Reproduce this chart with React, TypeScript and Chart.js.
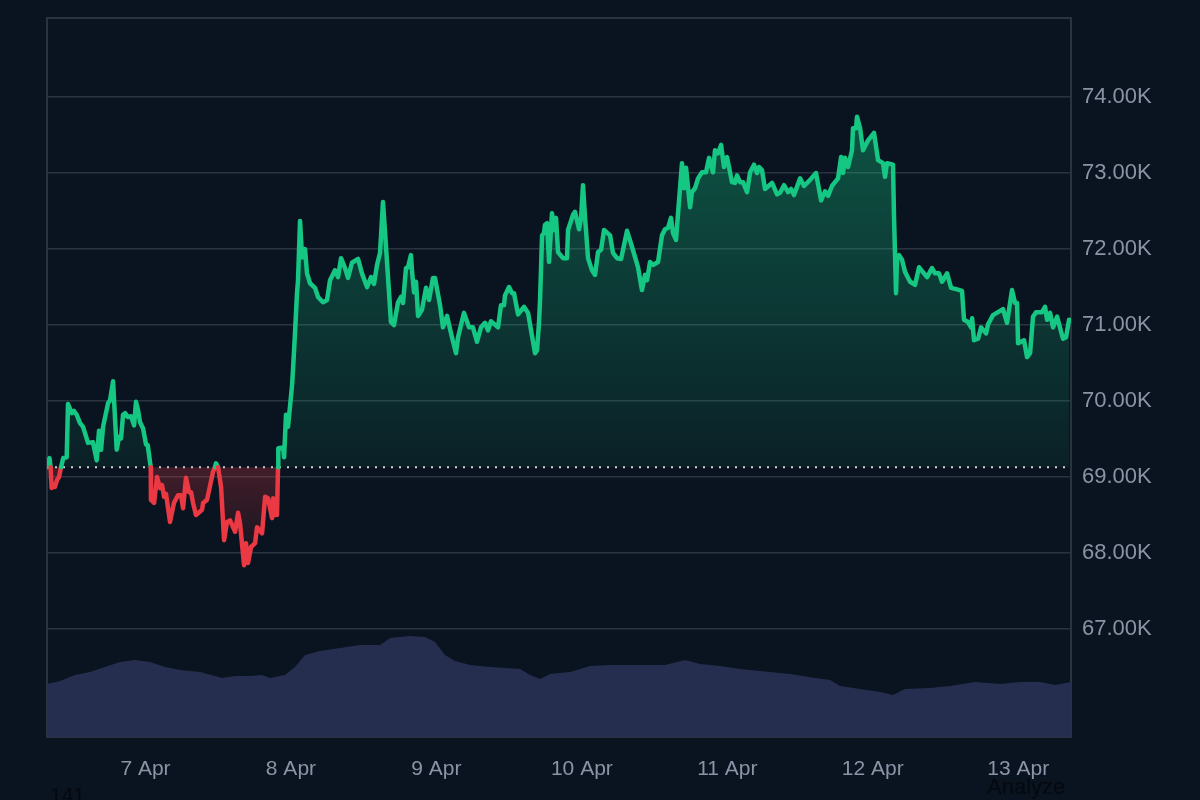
import { useEffect, useRef } from "react";
import Chart from "chart.js/auto";

// minutes since 7 Apr 00:00
const priceMinutes = [
  -975, -950, -940, -929, -916, -896, -876, -856, -836, -814, -780, -767, -730, -708, -681, -648, -618, -569, -520, -483,
  -460, -440, -420, -371, -351, -321, -285, -262, -242, -222, -202, -173, -143, -113, -94, -74, -54, -24, 5, 22,
  52, 54, 85, 114, 144, 164, 184, 203, 243, 282, 322, 352, 372, 401, 431, 451, 471, 500, 560, 570,
  609, 669, 688, 698, 718, 748, 778, 807, 837, 887, 916, 936, 976, 995, 1015, 1045, 1085, 1104, 1154, 1184,
  1213, 1253, 1263, 1283, 1302, 1312, 1315, 1362, 1372, 1391, 1411, 1451, 1461, 1480, 1500, 1510, 1530, 1550, 1579, 1599,
  1629, 1678, 1708, 1757, 1797, 1827, 1876, 1906, 1936, 1975, 2005, 2044, 2104, 2143, 2193, 2233, 2262, 2292, 2322, 2351,
  2381, 2430, 2460, 2500, 2530, 2549, 2579, 2599, 2628, 2638, 2658, 2678, 2698, 2737, 2777, 2807, 2846, 2866, 2916, 2945,
  2985, 3034, 3074, 3094, 3153, 3203, 3242, 3282, 3321, 3361, 3391, 3420, 3490, 3519, 3549, 3559, 3599, 3628, 3648, 3688,
  3747, 3787, 3856, 3876, 3896, 3906, 3926, 3945, 3955, 3975, 3995, 4024, 4044, 4064, 4084, 4133, 4173, 4183, 4232, 4252,
  4292, 4312, 4331, 4351, 4381, 4420, 4450, 4480, 4510, 4539, 4599, 4628, 4668, 4708, 4737, 4767, 4816, 4876, 4915, 4945,
  4965, 4995, 5024, 5074, 5113, 5143, 5173, 5202, 5222, 5252, 5272, 5311, 5331, 5351, 5391, 5410, 5440, 5470, 5509, 5549,
  5579, 5618, 5638, 5668, 5698, 5727, 5757, 5806, 5836, 5856, 5886, 5915, 5955, 5985, 6024, 6054, 6074, 6103, 6133, 6203,
  6252, 6282, 6321, 6361, 6391, 6420, 6480, 6519, 6579, 6638, 6688, 6727, 6757, 6796, 6856, 6886, 6905, 6925, 6955, 6994,
  7004, 7034, 7044, 7074, 7103, 7153, 7212, 7252, 7301, 7321, 7341, 7400, 7410, 7430, 7440, 7460, 7489, 7519, 7569, 7618,
  7658, 7737, 7786, 7816, 7856, 7885, 7935, 7975, 8034, 8083, 8103, 8143, 8173, 8183, 8202, 8242, 8272, 8321, 8341, 8390,
  8489, 8529, 8578, 8608, 8628, 8638, 8697, 8727, 8757, 8786, 8816, 8875, 8905, 8925, 8955, 8984, 9024, 9083, 9113, 9143,
];

const prices = [
  69130, 69250, 69130, 68855, 68910, 68870, 68960, 69000, 69130, 69250, 69260, 69960, 69840, 69870, 69820, 69710, 69660, 69450, 69460, 69220,
  69610, 69360, 69660, 69970, 70010, 70260, 69360, 69530, 69510, 69820, 69840, 69790, 69800, 69680, 69990, 69880, 69720, 69640, 69430, 69420,
  69130, 68700, 68660, 69000, 68855, 68895, 68740, 68780, 68410, 68660, 68760, 68760, 68590, 68990, 68800, 68800, 68660, 68500, 68570, 68660,
  68700, 69070, 69130, 69180, 69130, 68870, 68170, 68410, 68430, 68280, 68530, 68390, 67840, 68130, 67870, 68080, 68130, 68340, 68260, 68740,
  68720, 68460, 68720, 68500, 68500, 69130, 69380, 69390, 69260, 69820, 69660, 70210, 70430, 70890, 71420, 71590, 72370, 71890, 72000, 71680,
  71550, 71490, 71370, 71300, 71330, 71590, 71720, 71630, 71880, 71750, 71620, 71820, 71870, 71680, 71500, 71630, 71540, 71790, 71950, 72620,
  72030, 71040, 71000, 71300, 71370, 71290, 71750, 71760, 71920, 71720, 71430, 71570, 71120, 71200, 71490, 71330, 71620, 71620, 71260, 70970,
  71120, 70840, 70630, 70840, 71160, 70970, 70970, 70780, 70970, 71030, 70930, 71050, 70970, 71260, 71260, 71390, 71500, 71420, 71420, 71140,
  71240, 71160, 70630, 70670, 71040, 71330, 72180, 72210, 72320, 72340, 71830, 72470, 72250, 72410, 71960, 71880, 71880, 72250, 72450, 72490,
  72260, 72410, 72840, 72420, 71880, 71720, 71660, 71960, 71990, 72250, 72180, 71950, 71880, 71870, 72050, 72240, 72030, 71760, 71460, 71660,
  71590, 71830, 71790, 71830, 72180, 72260, 72280, 72410, 72210, 72120, 72470, 73130, 72800, 73070, 72550, 72750, 72800, 72930, 73010, 73010,
  73200, 73010, 73300, 73260, 73370, 73080, 73210, 72880, 72870, 72970, 72880, 72880, 72750, 73010, 73110, 73000, 73080, 73040, 72790, 72870,
  72720, 72740, 72840, 72750, 72790, 72710, 72930, 72830, 72910, 73000, 72640, 72760, 72700, 72830, 72930, 73210, 73000, 73200, 73080, 73300,
  73590, 73590, 73740, 73590, 73300, 73430, 73530, 73170, 73130, 72950, 73130, 73110, 72420, 71420, 71890, 71920, 71860, 71700, 71570, 71530,
  71760, 71630, 71750, 71680, 71680, 71570, 71680, 71490, 71470, 71450, 71070, 71040, 70970, 71090, 70800, 70820, 70970, 70890, 71010, 71130,
  71210, 71030, 71460, 71290, 71290, 70760, 70800, 70580, 70630, 71110, 71170, 71170, 71240, 71070, 71160, 70970, 71110, 70820, 70840, 71070,
];

const volumeMinutes = [
  -975, -846, -698, -549, -401, -252, -104, 45, 193, 342, 540, 688, 757, 886, 1035, 1154, 1233, 1381, 1480, 1579,
  1728, 1926, 2124, 2322, 2421, 2619, 2767, 2866, 2965, 3064, 3213, 3411, 3708, 3807, 3906, 4005, 4203, 4401, 4599, 4896,
  5143, 5342, 5490, 5688, 5886, 6084, 6381, 6628, 6777, 6876, 7074, 7272, 7400, 7519, 7767, 7965, 8212, 8460, 8658, 8856,
  9005, 9162,
];

const volumes = [
  26.5, 28, 31, 32.5, 35, 37.5, 38.5, 37.5, 35, 33.5, 32.5, 30.5, 29.5, 30.5, 30.5, 31, 29.5, 31, 35, 41,
  43, 44.5, 46, 46, 49.5, 50.5, 50, 47.5, 41, 38, 36, 35, 34, 31, 29, 31.5, 32.5, 35.5, 36, 36,
  36, 38.5, 36.5, 35.5, 34, 33, 31.5, 29.5, 28.5, 25.5, 24, 22.5, 21, 24, 24.5, 25.5, 27.5, 26.5, 27.5, 27.5,
  26, 27.5,
];

const dayTicks = [0, 1440, 2880, 4320, 5760, 7200, 8640];
const dayLabels = ["7 Apr", "8 Apr", "9 Apr", "10 Apr", "11 Apr", "12 Apr", "13 Apr"];
const priceTicks = [67000, 68000, 69000, 70000, 71000, 72000, 73000, 74000];
const BASELINE = 69130;

const GREEN = "#16c784";
const RED = "#ea3943";
const BG = "#0a1420";
const GRID = "#2a3441";
const LABEL = "#8a94a6";
const FONT = "'Liberation Sans', Arial, sans-serif";

export default function App() {
  const canvasRef = useRef<HTMLCanvasElement>(null);

  useEffect(() => {
    document.body.style.margin = "0";
    document.body.style.background = BG;
    if (!canvasRef.current) return;
    const ctx = canvasRef.current.getContext("2d");
    if (!ctx) return;

    const above = ctx.createLinearGradient(0, 115, 0, 467);
    above.addColorStop(0, "rgba(22,199,132,0.36)");
    above.addColorStop(1, "rgba(22,199,132,0.07)");
    const below = ctx.createLinearGradient(0, 467, 0, 570);
    below.addColorStop(0, "rgba(234,57,67,0.26)");
    below.addColorStop(1, "rgba(234,57,67,0.02)");

    const plotBorder = {
      id: "plotBorder",
      beforeDatasetsDraw(chart: Chart) {
        const { left, top, width, height } = chart.chartArea;
        chart.ctx.save();
        chart.ctx.strokeStyle = GRID;
        chart.ctx.lineWidth = 2;
        chart.ctx.strokeRect(left, top, width, height);
        chart.ctx.restore();
      },
    };

    const chart = new Chart(canvasRef.current, {
      type: "line",
      data: {
        datasets: [
          {
            label: "Price",
            data: priceMinutes.map((x, i) => ({ x, y: prices[i] })),
            yAxisID: "y",
            borderColor: GREEN,
            borderWidth: 4.5,
            borderJoinStyle: "round",
            borderCapStyle: "round",
            pointRadius: 0,
            tension: 0,
            fill: { target: { value: BASELINE }, above, below },
            segment: {
              borderColor: (c: any) =>
                Math.min(c.p0.parsed.y, c.p1.parsed.y) < BASELINE ? RED : GREEN,
            },
          },
          {
            label: "Baseline",
            data: [
              { x: -975, y: BASELINE },
              { x: 9162, y: BASELINE },
            ],
            yAxisID: "y",
            borderColor: "#d5d8dc",
            borderWidth: 2,
            borderDash: [2, 6],
            pointRadius: 0,
          },
          {
            label: "Volume",
            data: volumeMinutes.map((x, i) => ({ x, y: volumes[i] })),
            yAxisID: "y1",
            borderWidth: 0,
            pointRadius: 0,
            backgroundColor: "#262e50",
            fill: "origin",
          },
        ],
      },
      options: {
        responsive: false,
        animation: false,
        layout: { autoPadding: false, padding: { left: 47, top: 18, right: 0, bottom: 0 } },
        plugins: { legend: { display: false }, tooltip: { enabled: false } },
        scales: {
          x: {
            type: "linear",
            min: -975,
            max: 9162,
            afterBuildTicks: (axis: any) => {
              axis.ticks = dayTicks.map((value) => ({ value }));
            },
            afterFit: (axis: any) => {
              axis.height = 63;
              axis.paddingLeft = 0;
              axis.paddingRight = 0;
            },
            grid: { display: false },
            border: { display: false },
            ticks: {
              color: LABEL,
              font: { family: FONT, size: 21 },
              padding: 12,
              maxRotation: 0,
              autoSkip: false,
              callback: (v: any) => dayLabels[dayTicks.indexOf(Number(v))],
            },
          },
          y: {
            position: "right",
            min: 65580,
            max: 75040,
            afterBuildTicks: (axis: any) => {
              axis.ticks = priceTicks.map((value) => ({ value }));
            },
            afterFit: (axis: any) => {
              axis.width = 129;
              axis.paddingTop = 0;
              axis.paddingBottom = 0;
            },
            grid: { color: GRID, lineWidth: 1.6, drawTicks: false },
            border: { display: false },
            ticks: {
              color: LABEL,
              font: { family: FONT, size: 22 },
              padding: 11,
              autoSkip: false,
              callback: (v: any) => (Number(v) / 1000).toFixed(2) + "K",
            },
          },
          y1: {
            display: false,
            min: 0,
            max: 359.5,
          },
        },
      },
      plugins: [plotBorder],
    });

    return () => chart.destroy();
  }, []);

  return (
    <div
      style={{
        position: "relative",
        width: 1200,
        height: 800,
        overflow: "hidden",
        background: BG,
        fontFamily: FONT,
      }}
    >
      <canvas ref={canvasRef} width={1200} height={800} style={{ display: "block" }} />
      <div style={{ position: "absolute", left: 50, top: 784, fontSize: 21, lineHeight: "22px", color: "#05090f" }}>
        141
      </div>
      <div style={{ position: "absolute", left: 987, top: 776, fontSize: 22, lineHeight: "22px", color: "#05090f" }}>
        Analyze
      </div>
    </div>
  );
}
